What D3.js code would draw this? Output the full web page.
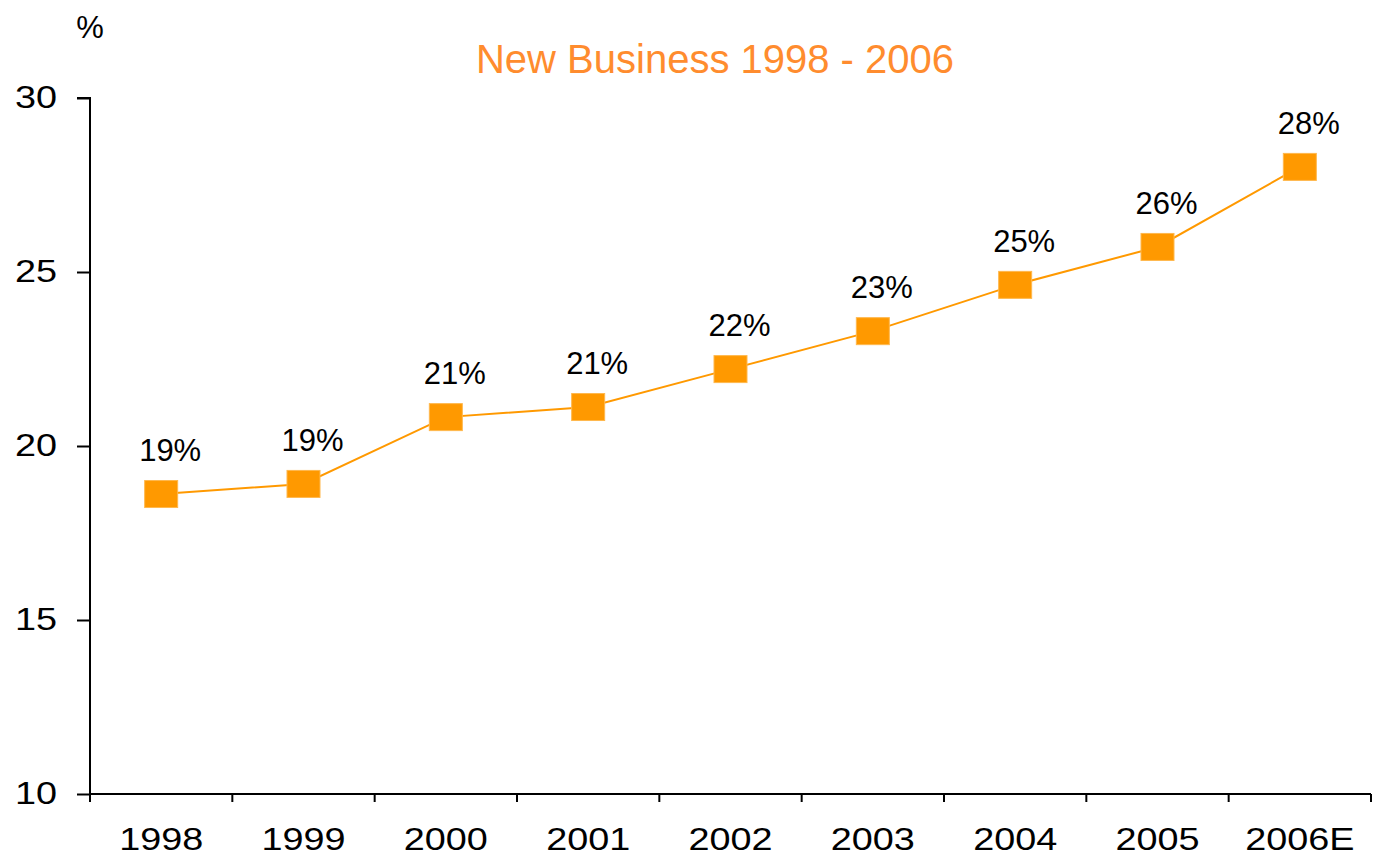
<!DOCTYPE html>
<meta charset="utf-8">
<style>
body{margin:0;background:#fff;}
text{font-family:"Liberation Sans",Arial,sans-serif;}
</style>
<body>
<script src="https://d3js.org/d3.v7.min.js"></script>
<script>
// chart data
var years = ["1998", "1999", "2000", "2001", "2002", "2003", "2004", "2005", "2006E"];
var share = [18.62, 18.91, 20.83, 21.12, 22.21, 23.3, 24.63, 25.72, 28.02];
var shareLabels = ["19%", "19%", "21%", "21%", "22%", "23%", "25%", "26%", "28%"];
var yTicks = [10, 15, 20, 25, 30];

var w = 1374, h = 855;
var mLeft = 90, mRight = 1371, mTop = 98, mBottom = 794;
var stretch = 1.22; // axis labels are drawn a bit wide

var svg = d3.select("body").append("svg")
  .attr("width", w)
  .attr("height", h);

var x = d3.scaleBand().domain(years).range([mLeft, mRight]);
var y = d3.scaleLinear().domain([10, 30]).range([mBottom, mTop]);

// y axis
var yAxis = svg.append("g")
  .attr("transform", "translate(" + mLeft + ",0)")
  .call(d3.axisLeft(y).tickValues(yTicks).tickSize(13));
yAxis.select(".domain").attr("stroke", "#000").attr("stroke-width", 2)
  .attr("d", "M-13," + mTop + "H0V" + mBottom);
yAxis.selectAll(".tick line").attr("stroke-width", 2);
yAxis.selectAll(".tick text")
  .attr("x", 0)
  .attr("transform", "translate(-33,0) scale(" + stretch + ",1)")
  .style("font-size", "31px").attr("fill", "#000");

// x axis: ticks on band boundaries
var xg = svg.append("g").attr("transform", "translate(0," + mBottom + ")");
xg.append("line").attr("x1", mLeft).attr("x2", mRight).attr("stroke", "#000").attr("stroke-width", 2);
var bounds = years.map(function(d) { return x(d); }).concat([mRight]);
xg.selectAll(".xt").data(bounds).enter().append("line")
  .attr("x1", function(d) { return d; }).attr("x2", function(d) { return d; })
  .attr("y1", 0).attr("y2", 8)
  .attr("stroke", "#000").attr("stroke-width", 2);
xg.selectAll(".xl").data(years).enter().append("text")
  .attr("transform", function(d) {
    return "translate(" + (x(d) + x.bandwidth() / 2) + ",56) scale(" + stretch + ",1)";
  })
  .attr("text-anchor", "middle")
  .style("font-size", "31px")
  .text(function(d) { return d; });

// title and unit
svg.append("text").attr("x", 715).attr("y", 73).attr("text-anchor", "middle")
  .style("font-size", "40px").attr("fill", "#ff8c2e").text("New Business 1998 - 2006");
svg.append("text").attr("x", 90).attr("y", 38).attr("text-anchor", "middle")
  .style("font-size", "31px").text("%");

// line
var pts = years.map(function(d, i) { return [x(d) + x.bandwidth() / 2, y(share[i])]; });
svg.append("path")
  .attr("d", d3.line()(pts))
  .attr("fill", "none")
  .attr("stroke", "#ff9900")
  .attr("stroke-width", 2);

// markers
svg.selectAll(".mk").data(pts).enter().append("rect")
  .attr("x", function(d) { return d[0] - 16.5; })
  .attr("y", function(d) { return d[1] - 13.5; })
  .attr("width", 33).attr("height", 27)
  .attr("fill", "#ff9900")
  .attr("stroke", "#ffb84d").attr("stroke-width", 1);

// labels
svg.selectAll(".lb").data(pts).enter().append("text")
  .attr("x", function(d) { return d[0] + 9; })
  .attr("y", function(d) { return d[1] - 33; })
  .attr("text-anchor", "middle")
  .style("font-size", "31px")
  .text(function(d, i) { return shareLabels[i]; });
</script>
</body>
